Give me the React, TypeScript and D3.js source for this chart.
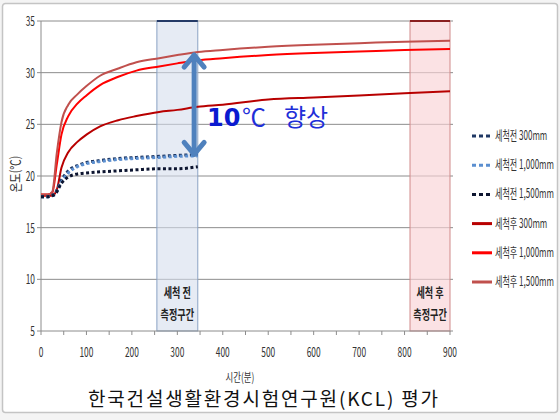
import * as d3 from "d3";
import React from "react";

// time (min) for the after-cleaning curves
const timeAfter = [0, 15, 25, 35, 45, 60, 80, 100, 130, 170, 210, 260, 300, 345, 400, 500, 600, 700, 800, 900];
const after300 = [18.1, 18.1, 18.1, 18.7, 20.8, 22.3, 23.3, 24.0, 24.8, 25.4, 25.8, 26.2, 26.4, 26.7, 26.9, 27.4, 27.6, 27.8, 28.0, 28.2];
const after1000 = [18.2, 18.2, 18.4, 21.2, 24.0, 25.8, 27.0, 27.8, 28.8, 29.6, 30.2, 30.6, 30.9, 31.2, 31.4, 31.7, 31.9, 32.05, 32.2, 32.3];
const after1500 = [18.2, 18.2, 18.5, 22.3, 25.2, 26.9, 27.9, 28.7, 29.7, 30.4, 31.0, 31.4, 31.7, 32.0, 32.2, 32.5, 32.7, 32.85, 33.0, 33.1];

// time (min) for the before-cleaning curves
const timeBefore = [0, 15, 30, 45, 60, 80, 100, 130, 170, 210, 260, 300, 345];
const before300 = [18.0, 18.0, 18.3, 19.6, 20.5, 21.0, 21.3, 21.5, 21.7, 21.8, 21.9, 22.0, 22.05];
const before1000 = [18.0, 18.0, 18.2, 19.4, 20.3, 20.9, 21.2, 21.4, 21.6, 21.7, 21.8, 21.9, 21.95];
const before1500 = [18.0, 18.0, 18.2, 19.3, 19.9, 20.2, 20.3, 20.4, 20.5, 20.6, 20.7, 20.7, 20.9];

const seriesNames = ["세척전 300mm", "세척전 1,000mm", "세척전 1,500mm", "세척후 300mm", "세척후 1,000mm", "세척후 1,500mm"];
const seriesColors = ["#1f3864", "#5b8fd0", "#0d1530", "#b80000", "#ff0000", "#c0504d"];

const xTicks = [0, 100, 200, 300, 400, 500, 600, 700, 800, 900];
const yTicks = [5, 10, 15, 20, 25, 30, 35];

// measurement windows and the improvement arrow
const bandBefore = [255, 345];
const bandAfter = [812, 900];
const arrowAt = 337;
const arrowRange = [21.9, 31.9];

export default function App() {
  const x = d3.scaleLinear().domain([0, 900]).range([41, 450]);
  const y = d3.scaleLinear().domain([5, 35]).range([331, 21]);

  const line = (ts: number[]) =>
    d3.line<number>()
      .x((_, i) => x(ts[i]))
      .y((d) => y(d))
      .curve(d3.curveMonotoneX);

  const before = [before300, before1000, before1500];
  const after = [after300, after1000, after1500];
  const minorTicks = d3.range(0, 901, 50);

  const narrow = (tx: number, ty: number, s = 0.6) => `translate(${tx},${ty}) scale(${s},1)`;
  const ax = x(arrowAt);

  return (
    <div style={{ position: "fixed", left: 0, top: 0 }}>
      <svg width={560} height={420} style={{ display: "block", fontFamily: "'Noto Sans CJK KR', sans-serif" }}>
        <rect x={0} y={0} width={560} height={420} fill="#f4f4f4" />
        <rect x={2.5} y={3.5} width={555} height={409} rx={3} fill="#fff" stroke="#c4c4c4" strokeWidth={1.5} />

        {/* gridlines */}
        {yTicks.slice(1).map((t) => (
          <line key={t} x1={37} x2={453} y1={y(t)} y2={y(t)} stroke="#8c8c8c" strokeWidth={1} />
        ))}

        {/* measurement bands */}
        <rect x={x(bandBefore[0])} y={y(35)} width={x(bandBefore[1]) - x(bandBefore[0])} height={y(5) - y(35)}
          fill="#d5deed" fillOpacity={0.6} stroke="#8aa2c4" strokeWidth={1} />
        <line x1={x(bandBefore[0])} x2={x(bandBefore[1])} y1={y(35)} y2={y(35)} stroke="#243a66" strokeWidth={2} />
        <rect x={x(bandAfter[0])} y={y(35)} width={x(bandAfter[1]) - x(bandAfter[0])} height={y(5) - y(35)}
          fill="#f9d3d6" fillOpacity={0.65} stroke="#d08a8a" strokeWidth={1} />
        <line x1={x(bandAfter[0])} x2={x(bandAfter[1])} y1={y(35)} y2={y(35)} stroke="#8a1f1f" strokeWidth={2} />

        {/* axes */}
        <line x1={x(0)} x2={x(0)} y1={y(35)} y2={y(5)} stroke="#8c8c8c" />
        <line x1={37} x2={453} y1={y(5)} y2={y(5)} stroke="#8c8c8c" />
        {minorTicks.map((t) => (
          <line key={t} x1={x(t)} x2={x(t)} y1={y(5)} y2={y(5) + 4} stroke="#8c8c8c" />
        ))}
        {yTicks.map((t) => (
          <text key={t} transform={narrow(35, y(t) + 5)} textAnchor="end" fontSize={14} fill="#333">{t}</text>
        ))}
        {xTicks.map((t) => (
          <text key={t} transform={narrow(x(t), 357)} textAnchor="middle" fontSize={14} fill="#333">{t}</text>
        ))}
        <text transform={narrow(240, 382, 0.7)} textAnchor="middle" fontSize={12} fill="#333">시간(분)</text>
        <text transform={`translate(20,174) rotate(-90) scale(0.8,1)`} textAnchor="middle" fontSize={13} fill="#333">온도(℃)</text>

        {/* band labels */}
        {[bandBefore, bandAfter].map((b, i) => (
          <g key={i} fontSize={13} fill="#222" fontWeight="bold">
            <text transform={narrow((x(b[0]) + x(b[1])) / 2, 297, 0.7)} textAnchor="middle">{i === 0 ? "세척 전" : "세척 후"}</text>
            <text transform={narrow((x(b[0]) + x(b[1])) / 2, 319, 0.7)} textAnchor="middle">측정구간</text>
          </g>
        ))}

        {/* curves */}
        {after.map((v, i) => (
          <path key={"a" + i} d={line(timeAfter)(v) || ""} fill="none" stroke={seriesColors[3 + i]} strokeWidth={2} />
        ))}
        {before.map((v, i) => (
          <path key={"b" + i} d={line(timeBefore)(v) || ""} fill="none" stroke={seriesColors[i]} strokeWidth={3}
            strokeDasharray="3 2.5" />
        ))}

        {/* improvement arrow */}
        <g stroke="#4f81bd" strokeWidth={5} fill="none" strokeLinecap="round" strokeLinejoin="round">
          <line x1={ax} x2={ax} y1={y(arrowRange[1]) + 2} y2={y(arrowRange[0]) - 2} />
          <polyline points={`${ax - 10},${y(arrowRange[1]) + 14} ${ax},${y(arrowRange[1]) + 2} ${ax + 10},${y(arrowRange[1]) + 14}`} />
          <polyline points={`${ax - 10},${y(arrowRange[0]) - 14} ${ax},${y(arrowRange[0]) - 2} ${ax + 10},${y(arrowRange[0]) - 14}`} />
        </g>
        <text x={207} y={126} fontSize={24} fontWeight="bold" fill="#0a1ad0" fontFamily="'DejaVu Sans', sans-serif">10</text>
        <text x={242} y={126} fontSize={24} fill="#1f2fd8">℃</text>
        <text x={284} y={126} fontSize={24} fill="#1f2fd8">향상</text>

        {/* legend */}
        {seriesNames.map((name, i) => {
          const ly = 136 + i * 29.2;
          return (
            <g key={name}>
              {i < 3 ? (
                <line x1={472} x2={492} y1={ly} y2={ly} stroke={seriesColors[i]} strokeWidth={3} strokeDasharray="4 3" />
              ) : (
                <line x1={472} x2={492} y1={ly} y2={ly} stroke={seriesColors[i]} strokeWidth={3} />
              )}
              <text transform={narrow(495, ly + 4, 0.62)} fontSize={13} fill="#333">{name}</text>
            </g>
          );
        })}

        {/* caption */}
        <text x={88} y={406} fontSize={19} fill="#111" textLength={350} lengthAdjust="spacing">한국건설생활환경시험연구원(KCL) 평가</text>
      </svg>
    </div>
  );
}
